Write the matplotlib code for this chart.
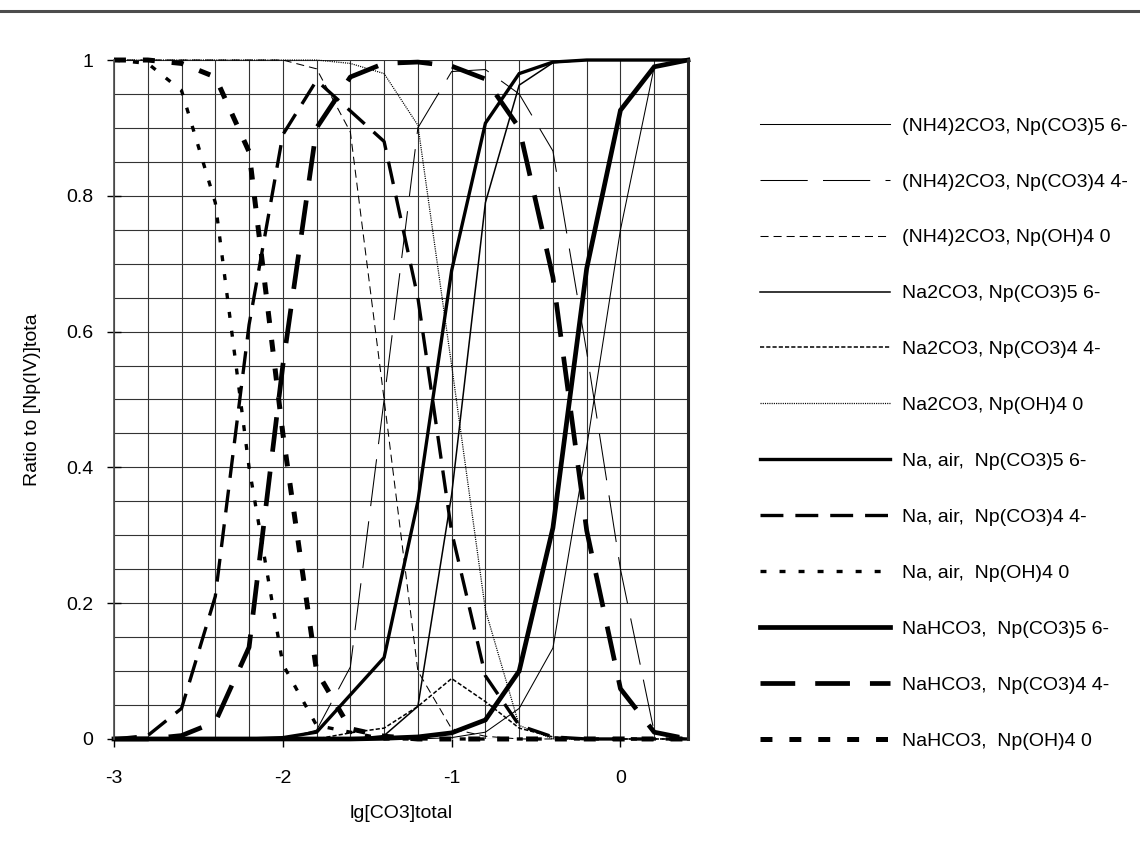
import numpy as np
import matplotlib.pyplot as plt
from matplotlib.lines import Line2D

plt.rcParams.update(
    {
        "font.family": ["Liberation Sans", "DejaVu Sans"],
        "font.size": 14,
        "axes.unicode_minus": False,
        "lines.scale_dashes": False,
    }
)

# lg[CO3]total grid
x = [-3.0, -2.8, -2.6, -2.4, -2.2, -2.0, -1.8, -1.6, -1.4, -1.2,
     -1.0, -0.8, -0.6, -0.4, -0.2, 0.0, 0.2, 0.4]

# (NH4)2CO3
nh4_co3_5 = [0, 0, 0, 0, 0, 0, 0, 0, 0, 0, 0.002, 0.01, 0.045, 0.134, 0.43, 0.75, 0.99, 1.0]
nh4_co3_4 = [0, 0, 0, 0, 0, 0, 0.013, 0.106, 0.50, 0.90, 0.983, 0.986, 0.95, 0.866, 0.57, 0.25, 0.01, 0.0]
nh4_oh4 = [1, 1, 1, 1, 1, 1.0, 0.987, 0.894, 0.50, 0.10, 0.015, 0.004, 0, 0, 0, 0, 0, 0]

# Na2CO3
na2_co3_5 = [0, 0, 0, 0, 0, 0, 0, 0, 0.005, 0.048, 0.36, 0.79, 0.963, 0.996, 1, 1, 1, 1]
na2_co3_4 = [0, 0, 0, 0, 0, 0, 0, 0.009, 0.016, 0.048, 0.089, 0.055, 0.016, 0.003, 0, 0, 0, 0]
na2_oh4 = [1, 1, 1, 1, 1, 1, 1.0, 0.995, 0.98, 0.904, 0.55, 0.19, 0.02, 0.0, 0, 0, 0, 0]

# Na, air
air_co3_5 = [0, 0, 0, 0, 0, 0.002, 0.01, 0.065, 0.12, 0.35, 0.69, 0.907, 0.98, 0.997, 1, 1, 1, 1]
air_co3_4 = [0, 0.005, 0.045, 0.21, 0.61, 0.89, 0.97, 0.925, 0.88, 0.65, 0.305, 0.093, 0.02, 0.003, 0, 0, 0, 0]
air_oh4 = [1, 0.995, 0.955, 0.79, 0.40, 0.11, 0.02, 0.01, 0.0, 0, 0, 0, 0, 0, 0, 0, 0, 0]

# NaHCO3
hco3_co3_5 = [0, 0, 0, 0, 0, 0, 0, 0, 0.001, 0.003, 0.009, 0.028, 0.10, 0.311, 0.693, 0.926, 0.99, 1.0]
hco3_co3_4 = [0, 0, 0.005, 0.025, 0.135, 0.55, 0.90, 0.975, 0.995, 0.997, 0.991, 0.972, 0.90, 0.68, 0.307, 0.074, 0.01, 0.0]
hco3_oh4 = [1, 1, 0.995, 0.975, 0.865, 0.45, 0.10, 0.015, 0.004, 0, 0, 0, 0, 0, 0, 0, 0, 0]

etiquetas = [
    "(NH4)2CO3, Np(CO3)5 6-",
    "(NH4)2CO3, Np(CO3)4 4-",
    "(NH4)2CO3, Np(OH)4 0",
    "Na2CO3, Np(CO3)5 6-",
    "Na2CO3, Np(CO3)4 4-",
    "Na2CO3, Np(OH)4 0",
    "Na, air,  Np(CO3)5 6-",
    "Na, air,  Np(CO3)4 4-",
    "Na, air,  Np(OH)4 0",
    "NaHCO3,  Np(CO3)5 6-",
    "NaHCO3,  Np(CO3)4 4-",
    "NaHCO3,  Np(OH)4 0",
]
series = [nh4_co3_5, nh4_co3_4, nh4_oh4, na2_co3_5, na2_co3_4, na2_oh4,
          air_co3_5, air_co3_4, air_oh4, hco3_co3_5, hco3_co3_4, hco3_oh4]

# (linewidth, linestyle) en pt
estilos = [
    (0.75, "-"),
    (0.75, (0, (34, 11))),
    (0.75, (0, (5.8, 3.6))),
    (1.1, "-"),
    (1.1, (0, (3, 1.5))),
    (0.9, (0, (0.8, 0.8))),
    (2.4, "-"),
    (2.4, (0, (16.5, 8.6))),
    (2.4, (0, (4.3, 9.4))),
    (3.4, "-"),
    (3.4, (0, (25, 14.4))),
    (3.6, (0, (8.6, 12.2))),
]

fig = plt.figure(figsize=(11.4, 8.43), dpi=100)
ax = fig.add_axes([0.1, 0.1234, 0.5035, 0.8054])

for y, lab, (lw, ls) in zip(series, etiquetas, estilos):
    ax.plot(x, y, color="black", lw=lw, ls=ls, label=lab, clip_on=False,
            solid_joinstyle="miter", dash_capstyle="butt")

ax.set_xlim(-3, 0.4)
ax.set_ylim(0, 1)
ax.set_xticks([-3, -2, -1, 0])
ax.set_xticklabels(["-3", "-2", "-1", "0"])
ax.set_yticks([0, 0.2, 0.4, 0.6, 0.8, 1.0])
ax.set_yticklabels(["0", "0.2", "0.4", "0.6", "0.8", "1"])
ax.set_xticks(np.arange(-3, 0.41, 0.2), minor=True)
ax.set_yticks(np.arange(0, 1.001, 0.05), minor=True)
ax.tick_params(axis="x", which="minor", length=0)
ax.tick_params(axis="y", which="minor", length=0)
ax.tick_params(axis="x", which="major", direction="out", length=6, pad=16, width=1)
ax.tick_params(axis="y", which="major", direction="inout", length=10, pad=10, width=1)
ax.grid(which="both", color="0.2", lw=0.8)
ax.set_axisbelow(True)

for s in ["top", "bottom"]:
    ax.spines[s].set_visible(False)
ax.spines["left"].set_color("0.3")
ax.spines["left"].set_linewidth(1.2)
ax.spines["right"].set_color("0.15")
ax.spines["right"].set_linewidth(2.2)

ax.set_xlabel("lg[CO3]total", labelpad=13)
ax.set_ylabel("Ratio to [Np(IV)]tota", labelpad=18)

fig.legend(
    loc="upper left",
    bbox_to_anchor=(760 / 1140, 1 - 117 / 843),
    frameon=False,
    borderpad=0,
    borderaxespad=0,
    handlelength=6.7,
    handletextpad=0.62,
    labelspacing=1.97,
    fontsize=14,
)

# linea superior del documento
fig.add_artist(Line2D([0, 1], [1 - 11 / 843, 1 - 11 / 843], color="0.3", lw=2.2))

fig.savefig("out.png", dpi=100)
